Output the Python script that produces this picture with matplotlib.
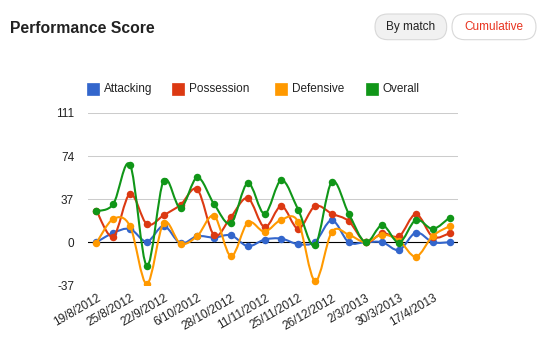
import numpy as np
import matplotlib
matplotlib.use("Agg")
import matplotlib.pyplot as plt
from matplotlib.path import Path
from matplotlib.patches import PathPatch, Rectangle, FancyBboxPatch
from matplotlib.transforms import IdentityTransform, ScaledTranslation

plt.rcParams['font.family'] = ['Liberation Sans', 'DejaVu Sans']

# ---------------- data ----------------
series_names = ["Attacking", "Possession", "Defensive", "Overall"]
series_colors = ["#3366cc", "#dc3912", "#ff9900", "#109618"]

attacking = [0, 8, 11.4, 0.5, 14, -0.9, 5.2, 4, 6, -3.4, 2.3, 3.1, -1.7, 0.3, 18.9,
             0, 0, 0, -6.6, 8.3, 0, 0]
possession = [27.2, 4.8, 41.6, 15.5, 23.2, 32.1, 45.3, 6, 21.8, 37.9, 12.9, 31, 11.7, 31, 24.5,
              18.1, 0, 7.7, 5.2, 24.1, 4.6, 7.7]
defensive = [-0.6, 20, 13.8, -35.9, 16.6, -1.2, 5.4, 22.6, -12, 16.9, 9.1, 19.4, 17.5, -33.3, 8.9,
             6.5, 0, 6.5, 1.4, -12.4, 5.4, 13.8]
overall = [26.7, 32.7, 66.5, -20.1, 53, 29.5, 55.6, 32.7, 16.3, 50.8, 24.4, 53.3, 27.8, -2.6, 51.9,
           24.6, 0, 14.6, -0.3, 19.2, 11.4, 21.2]

tick_labels = ["19/8/2012", "25/8/2012", "22/9/2012", "6/10/2012", "28/10/2012", "11/11/2012",
               "25/11/2012", "26/12/2012", "2/3/2013", "30/3/2013", "17/4/2013"]
y_ticks = [-37, 0, 37, 74, 111]

# ---------------- figure ----------------
W, H = 547, 340
fig = plt.figure(figsize=(W / 100, H / 100), dpi=100)
fig.patch.set_facecolor("white")

def fx(px):
    return px / W

def fy(py):
    return 1 - py / H

ax_left, ax_right, ax_top, ax_bottom = 88, 458, 113, 285.3
ax = fig.add_axes([fx(ax_left), fy(ax_bottom), (ax_right - ax_left) / W, (ax_bottom - ax_top) / H])
ax.set_facecolor("white")

n = len(overall)
x = np.arange(n)

def smooth_path(xs, ys, k=1 / 6):
    pts = np.column_stack([xs, ys]).astype(float)
    verts = [pts[0]]
    codes = [Path.MOVETO]
    m = len(pts)
    for i in range(m - 1):
        p0 = pts[i - 1] if i > 0 else pts[i]
        p1 = pts[i]
        p2 = pts[i + 1]
        p3 = pts[i + 2] if i + 2 < m else pts[i + 1]
        c1 = p1 + (p2 - p0) * k
        c2 = p2 - (p3 - p1) * k
        verts += [c1, c2, p2]
        codes += [Path.CURVE4] * 3
    return Path(verts, codes)

all_series = [attacking, possession, defensive, overall]
for j, (vals, col) in enumerate(zip(all_series, series_colors)):
    patch = PathPatch(smooth_path(x, vals), fill=False, edgecolor=col, lw=1.5,
                      zorder=3 + j, capstyle='round', joinstyle='round')
    ax.add_patch(patch)
    ax.plot(x, vals, 'o', color=col, markersize=5.4, markeredgewidth=0, zorder=3.5 + j)

ax.set_xlim(-0.5, n - 0.5)
ax.set_ylim(-37, 111)
ax.set_yticks(y_ticks)
ax.set_yticklabels([str(v) for v in y_ticks])
ax.grid(axis='y', color="#cccccc", lw=0.75, zorder=0)
ax.axhline(0, color="black", lw=0.8, zorder=2)
for s in ax.spines.values():
    s.set_visible(False)
ax.tick_params(axis='y', length=0, pad=10, labelsize=8.5, labelcolor="#222222")

tick_idx = np.arange(0, n, 2)[:len(tick_labels)]
ax.set_xticks(tick_idx)
ax.set_xticklabels(tick_labels, rotation=30, ha='right', rotation_mode='anchor')
ax.tick_params(axis='x', length=0, pad=5, labelsize=8.5, labelcolor="#222222")
offset = ScaledTranslation(0.5 / 100, 0, fig.dpi_scale_trans)
for lbl in ax.get_xticklabels():
    lbl.set_transform(lbl.get_transform() + offset)

# ---------------- title ----------------
fig.text(fx(9.5), fy(28.5), "Performance Score", fontsize=11.3, fontweight='bold',
         color="#222222", ha='left', va='center')

# ---------------- buttons ----------------
def button(x0, x1, y0, y1, face, text, tcolor):
    box = FancyBboxPatch((x0, H - y1), x1 - x0, y1 - y0,
                         boxstyle="round,pad=0,rounding_size=%f" % ((y1 - y0) / 2),
                         transform=IdentityTransform(), facecolor=face,
                         edgecolor="#d8d8d8", lw=0.8)
    fig.patches.append(box)
    fig.text(fx((x0 + x1) / 2), fy((y0 + y1) / 2 + 0.5), text, fontsize=8.5, color=tcolor,
             ha='center', va='center')

button(375, 446.7, 14, 39.7, "#f1f1f1", "By match", "#222222")
button(452, 536, 14, 39.7, "white", "Cumulative", "#e8321e")

# ---------------- legend ----------------
legend_x = [87, 172, 275, 365.7]
for lx, name, col in zip(legend_x, series_names, series_colors):
    r = Rectangle((lx, H - 95), 12, 12, transform=IdentityTransform(),
                  facecolor=col, edgecolor=col, lw=0.5)
    fig.patches.append(r)
    fig.text(fx(lx + 17), fy(89.5), name, fontsize=8.5, color="#222222",
             ha='left', va='center')

fig.savefig("out.png", dpi=100, facecolor="white")
